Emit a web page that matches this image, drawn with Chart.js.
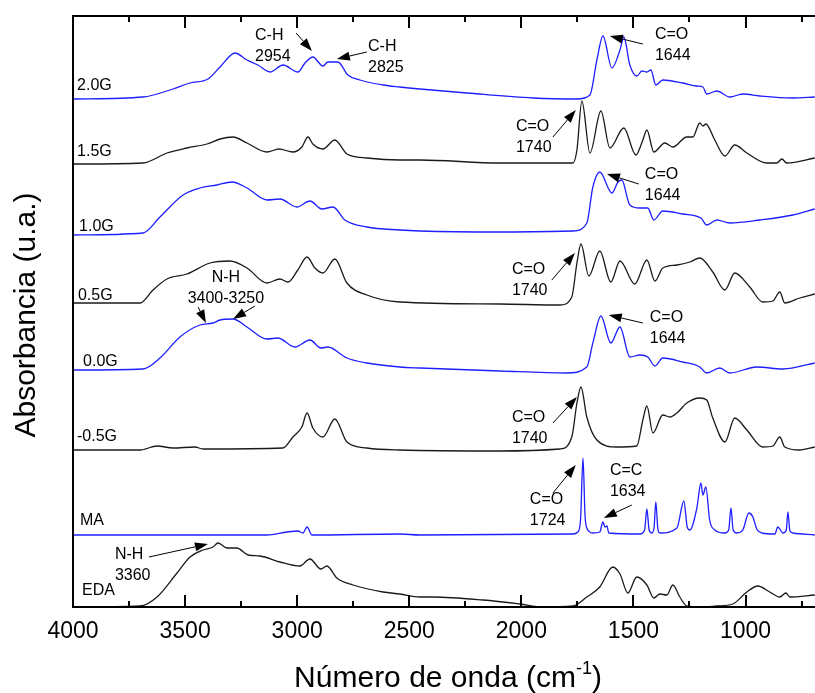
<!DOCTYPE html>
<html>
<head>
<meta charset="utf-8">
<script src="https://cdn.jsdelivr.net/npm/chart.js@4.4.1/dist/chart.umd.min.js"></script>
<style>
  html, body { margin: 0; padding: 0; background: #fff; }
  #wrap { width: 815px; height: 693px; }
</style>
</head>
<body>
<div id="wrap"><canvas id="myChart" width="815" height="693"></canvas></div>
<script>
// spectra: [wavenumber, absorbance above own baseline]
const spec20G = [[4000,0],[3688,0.02],[3554,0.10],[3478,0.16],[3398,0.20],[3344,0.32],[3277,0.46],[3224,0.39],[3175,0.34],[3121,0.27],[3063,0.34],[2997,0.27],[2965,0.36],[2930,0.42],[2885,0.33],[2863,0.37],[2818,0.37],[2774,0.24],[2720,0.19],[2617,0.14],[2542,0.12],[2452,0.10],[2243,0.06],[1948,0.01],[1752,0.00],[1694,0.04],[1663,0.39],[1636,0.63],[1596,0.31],[1560,0.49],[1543,0.62],[1516,0.34],[1485,0.23],[1462,0.28],[1440,0.27],[1422,0.29],[1400,0.14],[1369,0.19],[1280,0.16],[1217,0.13],[1190,0.12],[1173,0.05],[1128,0.08],[1070,0.02],[1012,0.05],[936,0.03],[789,0.01],[691,0.02]];
const spec15G = [[4000,0],[3688,0.01],[3581,0.11],[3492,0.16],[3402,0.20],[3344,0.25],[3286,0.27],[3224,0.21],[3135,0.12],[3081,0.15],[3019,0.12],[2979,0.17],[2952,0.27],[2930,0.20],[2885,0.15],[2832,0.24],[2778,0.10],[2689,0.06],[2542,0.04],[2452,0.04],[2096,0.01],[1770,0.01],[1752,0.14],[1730,0.63],[1694,0.11],[1645,0.53],[1605,0.16],[1543,0.36],[1489,0.09],[1458,0.24],[1440,0.34],[1409,0.12],[1360,0.21],[1324,0.17],[1262,0.27],[1235,0.27],[1204,0.41],[1190,0.38],[1177,0.40],[1137,0.24],[1092,0.08],[1048,0.19],[994,0.11],[905,0.01],[860,0.01],[838,0.05],[816,0.01],[691,0.06]];
const spec10G = [[4000,0],[3688,0.02],[3612,0.18],[3509,0.40],[3434,0.47],[3358,0.50],[3291,0.53],[3224,0.47],[3135,0.35],[3077,0.36],[3001,0.28],[2943,0.34],[2890,0.26],[2840,0.28],[2787,0.15],[2689,0.08],[2542,0.05],[2452,0.04],[2096,0.03],[1770,0.04],[1708,0.12],[1681,0.48],[1650,0.63],[1596,0.42],[1569,0.53],[1552,0.55],[1516,0.30],[1471,0.27],[1436,0.27],[1409,0.15],[1369,0.24],[1280,0.21],[1199,0.17],[1173,0.10],[1128,0.15],[1070,0.12],[936,0.15],[789,0.20],[691,0.26]];
const spec05G = [[4000,0],[3701,0],[3643,0.13],[3581,0.24],[3492,0.29],[3389,0.40],[3300,0.42],[3224,0.35],[3135,0.20],[3077,0.24],[3041,0.21],[2997,0.33],[2956,0.46],[2921,0.35],[2885,0.30],[2832,0.44],[2778,0.20],[2689,0.08],[2542,0.01],[2096,-0.01],[1828,-0.02],[1775,0.06],[1752,0.40],[1734,0.59],[1699,0.27],[1650,0.52],[1601,0.21],[1560,0.42],[1494,0.19],[1440,0.43],[1404,0.22],[1369,0.35],[1306,0.38],[1248,0.41],[1204,0.45],[1146,0.31],[1092,0.13],[1048,0.30],[981,0.16],[923,0.01],[878,0.02],[847,0.11],[825,0.00],[758,0.05],[691,0.09]];
const spec00G = [[4000,0],[3688,0.01],[3612,0.12],[3523,0.33],[3434,0.45],[3376,0.47],[3344,0.50],[3286,0.51],[3224,0.43],[3135,0.31],[3086,0.32],[3010,0.23],[2943,0.30],[2894,0.22],[2863,0.23],[2778,0.12],[2689,0.07],[2542,0.03],[2452,0.02],[2096,-0.01],[1797,-0.03],[1708,0.03],[1681,0.27],[1645,0.54],[1601,0.27],[1560,0.43],[1516,0.13],[1471,0.15],[1436,0.13],[1404,0.04],[1369,0.12],[1280,0.08],[1204,0.03],[1173,-0.03],[1115,0.02],[1070,-0.03],[950,0.03],[833,0.01],[691,0.07]];
const specM05G = [[4000,0],[3701,0],[3625,0.04],[3554,0.02],[3456,0.03],[3420,0.01],[3063,0.02],[3019,0.13],[2979,0.23],[2956,0.37],[2930,0.22],[2885,0.13],[2832,0.31],[2778,0.08],[2689,0.02],[2542,0],[2096,-0.01],[1828,0.01],[1775,0.13],[1752,0.47],[1734,0.63],[1708,0.33],[1663,0.10],[1574,0.03],[1485,0.04],[1458,0.30],[1440,0.44],[1413,0.17],[1369,0.35],[1337,0.33],[1306,0.37],[1262,0.47],[1204,0.52],[1173,0.50],[1146,0.32],[1092,0.08],[1048,0.32],[994,0.20],[923,0.03],[878,0.04],[847,0.13],[825,0.03],[758,0.00],[691,0.03]];
const specMA = [[4000,0],[3135,0],[3046,0.03],[2997,0.04],[2974,0.02],[2956,0.08],[2934,0],[2542,0.01],[2452,0],[1770,0.01],[1748,0.03],[1736,0.15],[1725,0.77],[1716,0.20],[1708,0.07],[1681,0.02],[1650,0.03],[1636,0.13],[1627,0.08],[1618,0.09],[1610,0.02],[1471,0.01],[1450,0.05],[1440,0.26],[1430,0.05],[1418,0.02],[1408,0.07],[1400,0.33],[1391,0.06],[1382,0.02],[1306,0.07],[1275,0.34],[1260,0.08],[1248,0.05],[1217,0.27],[1199,0.52],[1190,0.40],[1177,0.48],[1160,0.15],[1137,0.05],[1092,0.02],[1075,0.05],[1065,0.27],[1055,0.05],[1039,0.02],[1012,0.05],[985,0.22],[967,0.18],[950,0.06],[927,0.02],[869,0.01],[856,0.08],[833,0.02],[818,0.05],[811,0.23],[802,0.04],[789,0.02],[691,0.00]];
const specEDA = [[4000,0],[3701,0.01],[3625,0.10],[3536,0.34],[3478,0.50],[3420,0.57],[3376,0.60],[3353,0.64],[3313,0.59],[3269,0.59],[3219,0.52],[3166,0.51],[3077,0.45],[2988,0.41],[2943,0.48],[2894,0.38],[2867,0.41],[2823,0.29],[2751,0.22],[2617,0.15],[2542,0.13],[2452,0.10],[2394,0.10],[2171,0.07],[2006,0.03],[1904,0],[1770,0.01],[1708,0.10],[1650,0.20],[1592,0.40],[1560,0.33],[1525,0.14],[1485,0.30],[1440,0.22],[1409,0.09],[1382,0.13],[1351,0.12],[1324,0.22],[1293,0.10],[1262,0.01],[1204,0],[1128,0.01],[1057,0.03],[994,0.15],[945,0.21],[892,0.15],[847,0.10],[820,0.14],[802,0.10],[691,0.12]];

const seriesNames = ['2.0G', '1.5G', '1.0G', '0.5G', '0.0G', '-0.5G', 'MA', 'EDA'];
const seriesData = [spec20G, spec15G, spec10G, spec05G, spec00G, specM05G, specMA, specEDA];
const offsets = [5.08, 4.43, 3.72, 3.04, 2.37, 1.57, 0.72, 0];
const majorTicks = [4000, 3500, 3000, 2500, 2000, 1500, 1000];
const minorTicks = [3750, 3250, 2750, 2250, 1750, 1250, 750];

const BLUE = 'rgb(30,30,255)';
const BLACK = '#1a1a1a';
const FONT = '"Liberation Sans", Arial, sans-serif';

// series name positions (wavenumber, y)
const nameSpots = [[3982,5.21],[3982,4.55],[3973,3.80],[3978,3.11],[3955,2.45],[3982,1.70],[3969,0.86],[3960,0.16]];

// peak annotations: text lines, anchor, arrows [tailX, tailY, headX, headY]
const notes = [
    {lines: ['C-H', '2954'], x: 3188, y: 5.71, align: 'left', arrows: [[3005, 5.74, 2934, 5.56]]},
    {lines: ['C-H', '2825'], x: 2684, y: 5.60, align: 'left', arrows: [[2689, 5.55, 2823, 5.48]]},
    {lines: ['C=O', '1644'], x: 1404, y: 5.72, align: 'left', arrows: [[1458, 5.63, 1605, 5.71]]},
    {lines: ['C=O', '1740'], x: 2024, y: 4.80, align: 'left', arrows: [[1859, 4.70, 1757, 4.97]]},
    {lines: ['C=O', '1644'], x: 1449, y: 4.32, align: 'left', arrows: [[1476, 4.23, 1618, 4.33]]},
    {lines: ['N-H', '3400-3250'], x: 3318, y: 3.29, align: 'center', arrows: [[3442, 3.00, 3407, 2.84], [3188, 3.01, 3286, 2.88]]},
    {lines: ['C=O', '1740'], x: 2042, y: 3.37, align: 'left', arrows: [[1864, 3.27, 1761, 3.54]]},
    {lines: ['C=O', '1644'], x: 1427, y: 2.89, align: 'left', arrows: [[1458, 2.84, 1610, 2.92]]},
    {lines: ['C=O', '1740'], x: 2042, y: 1.89, align: 'left', arrows: [[1859, 1.84, 1752, 2.10]]},
    {lines: ['C=O', '1724'], x: 1962, y: 1.07, align: 'left', arrows: [[1859, 1.14, 1757, 1.42]]},
    {lines: ['C=C', '1634'], x: 1605, y: 1.36, align: 'left', arrows: [[1507, 1.02, 1632, 0.89]]},
    {lines: ['N-H', '3360'], x: 3813, y: 0.52, align: 'left', arrows: [[3661, 0.50, 3398, 0.63]]}
];

function drawArrow(c, x1, y1, x2, y2) {
    const ang = Math.atan2(y2 - y1, x2 - x1);
    const len = 13, half = 4.5;
    const bx = x2 - len * Math.cos(ang), by = y2 - len * Math.sin(ang);
    c.beginPath();
    c.moveTo(x1, y1);
    c.lineTo(bx, by);
    c.stroke();
    c.beginPath();
    c.moveTo(x2, y2);
    c.lineTo(bx + half * Math.sin(ang), by - half * Math.cos(ang));
    c.lineTo(bx - half * Math.sin(ang), by + half * Math.cos(ang));
    c.closePath();
    c.fill();
}

const decorPlugin = {
    id: 'decor',
    afterDraw(chart) {
        const c = chart.ctx;
        const a = chart.chartArea;
        const xs = chart.scales.x, ys = chart.scales.y;
        c.save();
        c.strokeStyle = '#000';
        c.fillStyle = '#000';

        // frame (right side falls off the canvas)
        c.lineWidth = 2;
        c.beginPath();
        c.moveTo(a.right + 2, a.top);
        c.lineTo(a.left, a.top);
        c.lineTo(a.left, a.bottom);
        c.lineTo(a.right + 2, a.bottom);
        c.stroke();

        // inward ticks, top and bottom
        c.lineWidth = 2;
        const tick = (v, len) => {
            const px = Math.round(xs.getPixelForValue(v));
            c.beginPath();
            c.moveTo(px, a.bottom);
            c.lineTo(px, a.bottom - len);
            c.moveTo(px, a.top);
            c.lineTo(px, a.top + len);
            c.stroke();
        };
        majorTicks.forEach(v => tick(v, 12));
        minorTicks.forEach(v => tick(v, 6));

        // tick labels
        c.font = '23px ' + FONT;
        c.textAlign = 'center';
        c.textBaseline = 'middle';
        majorTicks.forEach(v => c.fillText(String(v), xs.getPixelForValue(v), 632));

        // axis titles
        c.font = '30px ' + FONT;
        c.textBaseline = 'alphabetic';
        c.textAlign = 'left';
        const t1 = 'Número de onda (cm';
        c.font = '30px ' + FONT;
        const w1 = c.measureText(t1).width;
        c.font = '18px ' + FONT;
        const w2 = c.measureText('-1').width;
        c.font = '30px ' + FONT;
        const w3 = c.measureText(')').width;
        let sx = 448 - (w1 + w2 + w3) / 2;
        c.fillText(t1, sx, 687);
        c.font = '18px ' + FONT;
        c.fillText('-1', sx + w1, 674);
        c.font = '30px ' + FONT;
        c.fillText(')', sx + w1 + w2, 687);

        c.save();
        c.translate(27, 315);
        c.rotate(-Math.PI / 2);
        c.textAlign = 'center';
        c.textBaseline = 'middle';
        c.fillText('Absorbancia (u.a.)', 0, 0);
        c.restore();

        // series names
        c.font = '16px ' + FONT;
        c.textAlign = 'left';
        c.textBaseline = 'middle';
        seriesNames.forEach((n, i) => {
            c.fillText(n, xs.getPixelForValue(nameSpots[i][0]), ys.getPixelForValue(nameSpots[i][1]));
        });

        // peak notes
        c.lineWidth = 1;
        notes.forEach(n => {
            c.textAlign = n.align;
            const px = xs.getPixelForValue(n.x), py = ys.getPixelForValue(n.y);
            n.lines.forEach((l, k) => c.fillText(l, px, py + k * 21));
            n.arrows.forEach(ar => drawArrow(c,
                xs.getPixelForValue(ar[0]), ys.getPixelForValue(ar[1]),
                xs.getPixelForValue(ar[2]), ys.getPixelForValue(ar[3])));
        });
        c.restore();
    }
};

const datasets = seriesData.map((s, i) => ({
    label: seriesNames[i],
    data: s.map(p => ({x: p[0], y: p[1] + offsets[i]})),
    borderColor: i % 2 === 0 ? BLUE : BLACK,
    borderWidth: 1.3,
    pointRadius: 0,
    fill: false,
    cubicInterpolationMode: 'monotone'
}));

const myChart = new Chart(document.getElementById('myChart'), {
    type: 'line',
    data: {datasets: datasets},
    options: {
        responsive: false,
        animation: false,
        devicePixelRatio: 1,
        layout: {padding: {left: 73, top: 16, right: 0, bottom: 86}},
        plugins: {legend: {display: false}, tooltip: {enabled: false}},
        scales: {
            x: {type: 'linear', reverse: true, min: 690, max: 4000, display: false},
            y: {type: 'linear', min: 0, max: 5.91, display: false}
        }
    },
    plugins: [decorPlugin]
});
</script>
</body>
</html>
